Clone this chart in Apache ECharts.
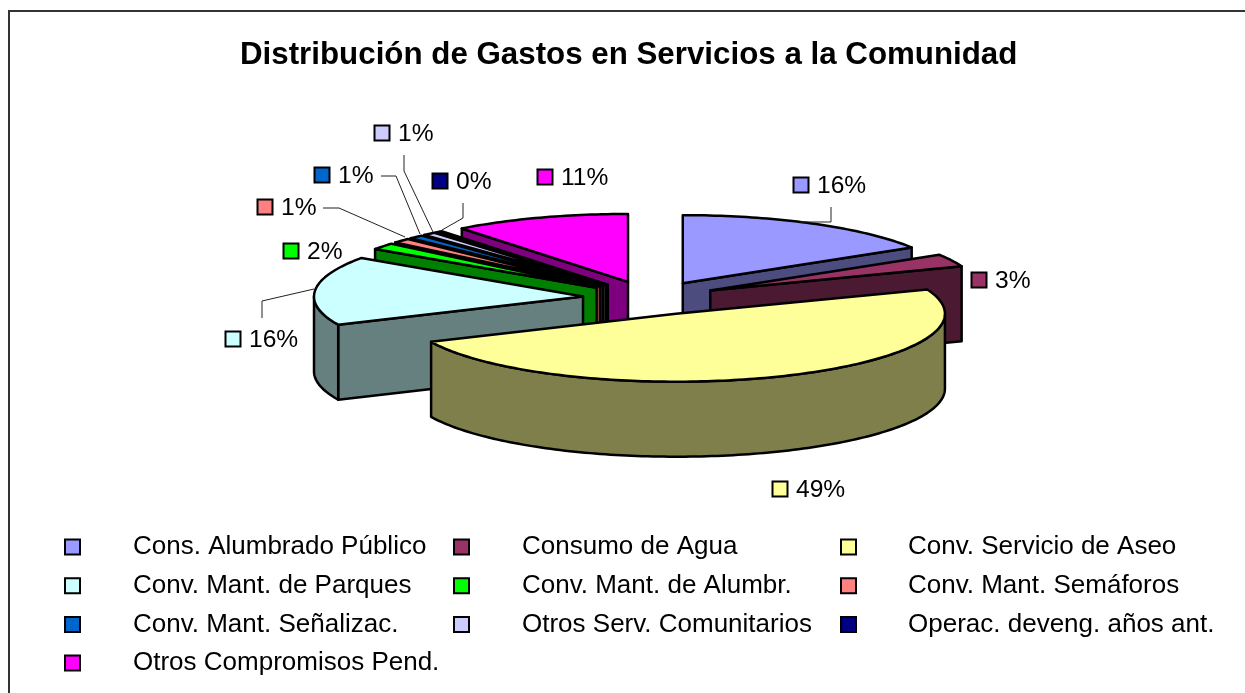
<!DOCTYPE html>
<html>
<head>
<meta charset="utf-8">
<style>
  html, body { margin: 0; padding: 0; background: #fff; }
  #main { width: 1245px; height: 693px; }
</style>
<script src="https://cdn.jsdelivr.net/npm/echarts@6/dist/echarts.min.js"></script>
</head>
<body>
<div id="main"></div>
<script>
// datos
const categories = [
  'Cons. Alumbrado Público', 'Consumo de Agua', 'Conv. Servicio de Aseo',
  'Conv. Mant. de Parques', 'Conv. Mant. de Alumbr.', 'Conv. Mant. Semáforos',
  'Conv. Mant. Señalizac.', 'Otros Serv. Comunitarios', 'Operac. deveng. años ant.',
  'Otros Compromisos Pend.'
];
const values = [16.2, 3.0, 49.0, 16.4, 1.6, 1.1, 0.9, 0.8, 0.4, 10.6];
const sliceColors = ['#9999FF', '#993366', '#FFFF99', '#CCFFFF', '#00FF00', '#FF8080', '#0066CC', '#CCCCFF', '#000080', '#FF00FF'];
const wallColors = ['#4C4C7F', '#4C1933', '#7F7F4C', '#667F7F', '#007F00', '#7F4040', '#003366', '#66667F', '#000040', '#7F007F'];

// posicion de etiquetas: cuadro [x, y] y linea guia
const labelBoxes = [[801, 185], [979, 280], [780, 489], [233, 339], [291, 251], [265, 207], [322, 175], [382, 133], [440, 181], [545, 177]];
const leaderLines = [
  [[831, 207], [831, 222], [800, 222]],
  null,
  null,
  [[262, 318], [262, 301], [314, 289]],
  null,
  [[323, 208], [339, 208], [405, 237]],
  [[381, 176], [396, 176], [420, 234]],
  [[404, 155], [404, 171], [433, 232]],
  [[463, 203], [463, 218], [442, 230]],
  null
];

// geometria del pastel
const cx = 650, cy = 298, rx = 269, ry = 68, depth = 75, explode = 0.25;
const font = 'Liberation Sans, Arial, sans-serif';
const total = values.reduce((a, b) => a + b, 0);

let acc = 0;
const slices = values.map((v, i) => {
  const a = acc / total * 2 * Math.PI;
  acc += v;
  const b = acc / total * 2 * Math.PI;
  const mid = (a + b) / 2;
  return {
    a, b,
    ax: cx + rx * explode * Math.sin(mid),
    ay: cy - ry * explode * Math.cos(mid)
  };
});

function rimPoint(s, t, down) {
  return [s.ax + rx * Math.sin(t), s.ay - ry * Math.cos(t) + (down ? depth : 0)];
}

function arcPoints(s, from, to, down) {
  const n = Math.max(2, Math.ceil((to - from) / 0.02));
  const pts = [];
  for (let k = 0; k <= n; k++) pts.push(rimPoint(s, from + (to - from) * k / n, down));
  return pts;
}

function face(points, color) {
  return {
    type: 'polygon',
    shape: { points },
    style: { fill: color, stroke: '#000', lineWidth: 2.5, lineJoin: 'round' }
  };
}

function renderSlice(i) {
  const s = slices[i];
  const wall = wallColors[i];
  const children = [];
  const apex = [s.ax, s.ay];
  const apexDown = [s.ax, s.ay + depth];

  // pared radial inicial
  if (Math.sin(s.a) < -1e-6) {
    children.push(face([apex, rimPoint(s, s.a), rimPoint(s, s.a, true), apexDown], wall));
  }
  // pared radial final
  if (Math.sin(s.b) > 1e-6) {
    children.push(face([apex, rimPoint(s, s.b), rimPoint(s, s.b, true), apexDown], wall));
  }
  // borde exterior
  const from = Math.max(s.a, Math.PI / 2);
  const to = Math.min(s.b, Math.PI * 3 / 2);
  if (to > from) {
    children.push(face(arcPoints(s, from, to).concat(arcPoints(s, from, to, true).reverse()), wall));
  }
  // cara superior
  children.push(face([apex].concat(arcPoints(s, s.a, s.b)), sliceColors[i]));

  return { type: 'group', children };
}

function renderLabel(i) {
  const [x, y] = labelBoxes[i];
  const children = [{
    type: 'rect',
    shape: { x: x - 7.5, y: y - 7.5, width: 15, height: 15 },
    style: { fill: sliceColors[i], stroke: '#000', lineWidth: 2 },
    z2: 50
  }, {
    type: 'text',
    style: {
      x: x + 16, y: y + 1,
      text: Math.round(values[i] / total * 100) + '%',
      font: '24.6px ' + font,
      fill: '#000',
      textVerticalAlign: 'middle'
    },
    z2: 50
  }];
  if (leaderLines[i]) {
    children.push({
      type: 'polyline',
      shape: { points: leaderLines[i] },
      style: { stroke: '#222', lineWidth: 1, fill: null },
      z2: 50
    });
  }
  return { type: 'group', children };
}

// se dibuja de atras hacia adelante
const drawOrder = categories.map((_, i) => i).sort((p, q) => slices[p].ay - slices[q].ay);

const series = drawOrder.map(i => ({
  type: 'custom',
  name: categories[i],
  coordinateSystem: 'none',
  silent: true,
  itemStyle: { color: sliceColors[i] },
  data: [values[i]],
  renderItem: () => renderSlice(i)
}));

// etiquetas encima de todo
series.push({
  type: 'custom',
  name: 'etiquetas',
  coordinateSystem: 'none',
  silent: true,
  data: values,
  renderItem: params => renderLabel(params.dataIndex)
});

function legendColumn(left, textGap, names) {
  return {
    orient: 'vertical',
    left, top: 527,
    itemWidth: 15,
    itemHeight: 15,
    itemGap: 8.7,
    icon: 'rect',
    selectedMode: false,
    data: names,
    itemStyle: { borderColor: '#000', borderWidth: 2 },
    textStyle: { fontFamily: font, fontSize: 26, lineHeight: 30, color: '#000', padding: [0, 0, 0, textGap] }
  };
}

const chart = echarts.init(document.getElementById('main'));
chart.setOption({
  animation: false,
  backgroundColor: '#fff',
  title: {
    text: 'Distribución de Gastos en Servicios a la Comunidad',
    left: 235,
    top: 35,
    textStyle: { fontFamily: font, fontSize: 31.3, fontWeight: 'bold', color: '#000' }
  },
  graphic: [{
    type: 'rect',
    shape: { x: 9, y: 11, width: 1300, height: 760 },
    style: { fill: 'none', stroke: '#333', lineWidth: 2 }
  }],
  legend: [
    legendColumn(59, 48, [categories[0], categories[3], categories[6], categories[9]]),
    legendColumn(448, 48, [categories[1], categories[4], categories[7]]),
    legendColumn(835, 47, [categories[2], categories[5], categories[8]])
  ],
  series
});
</script>
</body>
</html>
